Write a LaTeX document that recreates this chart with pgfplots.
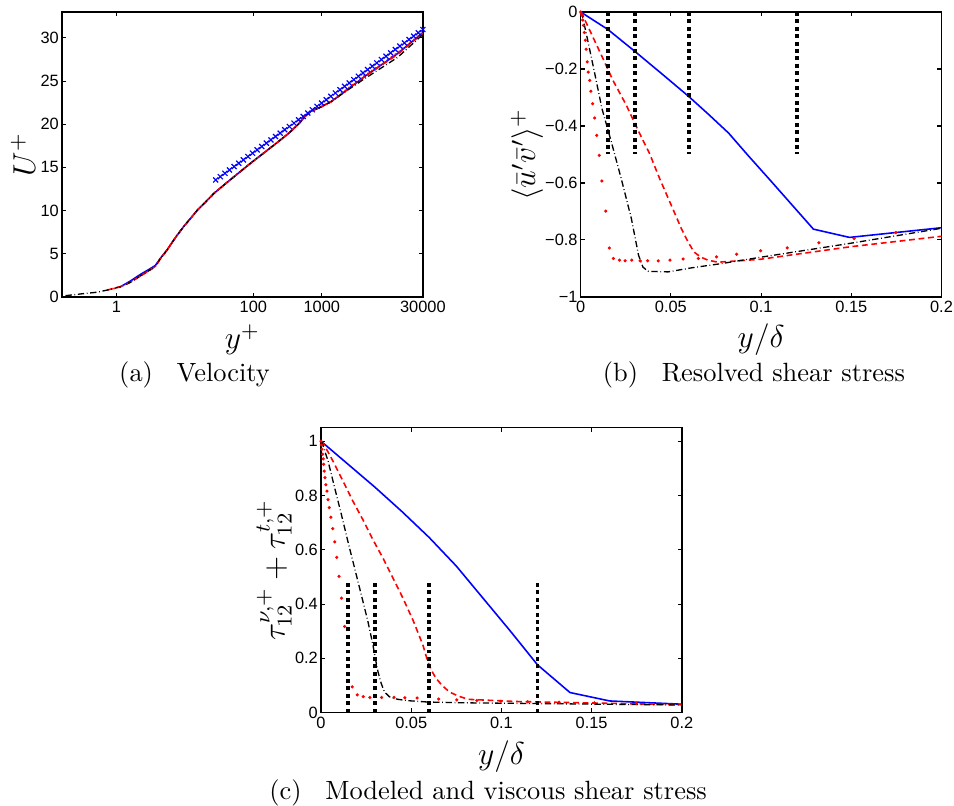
\documentclass[border=0pt]{standalone}
\usepackage{fontspec}
\setsansfont{Liberation Sans}
\usepackage{pgfplots}
\pgfplotsset{compat=1.18}
\pgfplotsset{
  mystyle/.style={
    scale only axis, width=136.7pt, height=107.96pt,
    axis line style={line width=0.5pt},
    tick align=inside, major tick length=1.6pt,
    tick style={black, line width=0.4pt},
    every tick label/.append style={font=\fontsize{6.2}{7}\selectfont\sffamily},
    yticklabel style={inner sep=1pt},
    xticklabel style={inner sep=1.5pt},
    /pgf/number format/assume math mode=true,
    label style={font=\fontsize{12}{14}\selectfont},
    xminorticks=false, yminorticks=false,
  },
  bluel/.style={blue, line width=0.6pt},
  redd/.style={red, line width=0.6pt, dash pattern=on 2.2pt off 1.4pt},
  blkdd/.style={black, line width=0.5pt, dash pattern=on 2.4pt off 1pt on 0.3pt off 1pt},
  reddots/.style={only marks, mark=*, mark size=0.38pt, red, mark options={solid, fill=red, draw=red}},
  vline/.style={black, line width=1.4pt, dash pattern=on 1.5pt off 1.3pt},
}
\begin{document}
\begin{tikzpicture}
\useasboundingbox (0,0) rectangle (361.4pt,305.3pt);
% ---------------- (a) ----------------
\begin{axis}[mystyle, at={(23.49pt,192.8pt)}, anchor=south west,
  xmode=log, log basis x=10, xmin=0.16, xmax=30000, ymin=0, ymax=33,
  xtick={1,100,1000,30000}, xticklabels={1,100,1000,30000},
  ytick={0,5,10,15,20,25,30},
  xlabel={$y^+$}, ylabel={$U^+$},
  xlabel style={at={(axis description cs:0.5,-0.15)}, anchor=center},
  ylabel style={at={(axis description cs:-0.108,0.5)}, anchor=center},
]
\addplot[bluel] coordinates {
(1.1,1.1) (1.6,1.85) (2.25,2.62) (3.0,3.2) (3.7,3.65) (4.4,4.5) (5.5,5.45) (7.3,6.9) (9.7,8.2) (12.1,9.1) (15.2,10.05) (20.1,11.0) (26.6,12.0) (41.8,13.3) (91.6,15.5) (201,17.6) (334,19.0) (467,20.1) (566,20.9) (692,21.5) (970,22.0) (1358,22.6) (1800,23.3) (4178,25.5) (12882,28.2) (30000,30.6)};
\addplot[redd] coordinates {
(0.73,0.8) (1.15,1.2) (1.6,1.7) (2.25,2.45) (3.0,3.05) (3.7,3.55) (4.4,4.45) (5.5,5.45) (7.3,6.9) (9.7,8.2) (12.1,9.1) (15.2,10.05) (20.1,11.0) (26.6,12.0) (41.8,13.3) (91.6,15.5) (201,17.6) (334,19.0) (467,20.1) (566,20.9) (692,21.5) (970,22.0) (1358,22.6) (1800,23.3) (4178,25.5) (12882,28.1) (30000,30.55)};
\addplot[blkdd] coordinates {
(0.18,0.15) (0.3,0.35) (0.52,0.55) (0.82,0.88) (1.15,1.2) (1.6,1.7) (2.25,2.45) (3.0,3.05) (3.7,3.55) (4.4,4.45) (5.5,5.45) (7.3,6.9) (9.7,8.2) (12.1,9.1) (15.2,10.05) (20.1,11.0) (26.6,12.0) (41.8,13.3) (91.6,15.5) (201,17.6) (334,19.0) (467,20.1) (566,20.9) (692,21.5) (970,22.0) (1358,22.6) (1800,23.3) (4178,25.25) (12882,27.75) (30000,30.4)};
\addplot[red, line width=0.6pt, dash pattern=on 0.5pt off 1.3pt] coordinates {
(0.9,0.95) (1.15,1.2) (1.6,1.7) (2.25,2.45) (3.0,3.05) (3.7,3.55) (4.4,4.45) (5.5,5.45) (7.3,6.9) (9.7,8.2) (12.1,9.1) (15.2,10.05) (20.1,11.0) (26.6,12.0) (41.8,13.3) (91.6,15.5) (201,17.6) (334,19.0) (467,20.1) (566,20.9) (692,21.5) (970,22.0) (1358,22.6) (1800,23.4) (4178,25.6) (12882,28.3) (30000,30.65)};
\addplot[only marks, mark=x, mark size=1.35pt, blue, mark options={line width=0.45pt}] coordinates {
(28.18,13.55) (32.91,13.93) (38.42,14.32) (44.86,14.71) (52.37,15.10) (61.15,15.48) (71.39,15.87) (83.35,16.26) (97.31,16.65) (113.6,17.03) (132.65,17.42) (154.9,17.81) (180.8,18.19) (211.1,18.58) (246.5,18.97) (287.8,19.36) (336.0,19.74) (392.3,20.13) (458.0,20.52) (534.7,20.90) (624.3,21.29) (728.8,21.68) (850.9,22.07) (993.6,22.45) (1160,22.84) (1354,23.23) (1581,23.62) (1846,24.00) (2155,24.39) (2516,24.78) (2938,25.16) (3430,25.55) (4005,25.94) (4676,26.33) (5459,26.71) (6373,27.10) (7441,27.49) (8687,27.88) (10145,28.26) (11844,28.65) (13828,29.04) (16144,29.42) (18848,29.81) (22006,30.20) (25692,30.59) (29996,30.97)};
\end{axis}
% ---------------- (b) ----------------
\begin{axis}[mystyle, at={(219.97pt,192.8pt)}, anchor=south west,
  xmin=0, xmax=0.2, ymin=-1, ymax=0,
  xtick={0,0.05,0.1,0.15,0.2}, xticklabels={0,0.05,0.1,0.15,0.2},
  ytick={-1,-0.8,-0.6,-0.4,-0.2,0}, yticklabels={−1,−0.8,−0.6,−0.4,−0.2,0},
  xlabel={$y/\delta$}, ylabel={$\langle\bar{u}'\bar{v}'\rangle^+$},
  xlabel style={at={(axis description cs:0.5,-0.15)}, anchor=center},
  ylabel style={at={(axis description cs:-0.149,0.5)}, anchor=center},
]
\addplot[bluel] coordinates {
(0,0) (0.015,-0.061) (0.03,-0.138) (0.045,-0.217) (0.06,-0.297) (0.071,-0.36) (0.082,-0.425) (0.093,-0.505) (0.105,-0.59) (0.117,-0.676) (0.129,-0.762) (0.149,-0.791) (0.2,-0.757)};
\addplot[redd] coordinates {
(0,0) (0.0007,-0.006) (0.0059,-0.076) (0.0124,-0.164) (0.0179,-0.24) (0.0253,-0.327) (0.0318,-0.415) (0.0382,-0.497) (0.0438,-0.585) (0.0502,-0.678) (0.0558,-0.76) (0.0595,-0.807) (0.0628,-0.842) (0.0665,-0.86) (0.0706,-0.871) (0.0761,-0.878) (0.0993,-0.868) (0.1492,-0.824) (0.2,-0.787)};
\addplot[blkdd] coordinates {
(0,0) (0.0007,-0.006) (0.0041,-0.105) (0.0078,-0.216) (0.0118,-0.339) (0.017,-0.456) (0.0225,-0.585) (0.0281,-0.725) (0.0321,-0.854) (0.0345,-0.895) (0.0373,-0.91) (0.0484,-0.912) (0.0613,-0.898) (0.0779,-0.883) (0.0993,-0.861) (0.1492,-0.812) (0.2,-0.759)};
\addplot[reddots] coordinates {
(0,0) (0.0004,-0.006) (0.0007,-0.012) (0.0011,-0.028) (0.0015,-0.047) (0.002,-0.072) (0.0026,-0.099) (0.003,-0.131) (0.0037,-0.175) (0.0042,-0.211) (0.005,-0.24) (0.0057,-0.278) (0.0066,-0.322) (0.0078,-0.372) (0.0089,-0.433) (0.0103,-0.503) (0.0118,-0.593) (0.0139,-0.699) (0.0159,-0.828) (0.0181,-0.865) (0.0215,-0.871) (0.0246,-0.873) (0.0283,-0.871) (0.0329,-0.873) (0.0371,-0.873) (0.043,-0.873) (0.0495,-0.871) (0.0568,-0.867) (0.0652,-0.865) (0.0753,-0.859) (0.0864,-0.85) (0.0997,-0.838) (0.1145,-0.828) (0.132,-0.81) (0.1516,-0.795) (0.1747,-0.774)};
\addplot[vline] coordinates {(0.015,0) (0.015,-0.5)};
\addplot[vline] coordinates {(0.03,0) (0.03,-0.5)};
\addplot[vline] coordinates {(0.06,0) (0.06,-0.5)};
\addplot[vline] coordinates {(0.12,0) (0.12,-0.5)};
\end{axis}
% ---------------- (c) ----------------
\begin{axis}[mystyle, at={(121.6pt,35.34pt)}, anchor=south west,
  xmin=0, xmax=0.2, ymin=0, ymax=1.05,
  xtick={0,0.05,0.1,0.15,0.2}, xticklabels={0,0.05,0.1,0.15,0.2},
  ytick={0,0.2,0.4,0.6,0.8,1}, yticklabels={0,0.2,0.4,0.6,0.8,1},
  xlabel={$y/\delta$}, ylabel={$\tau_{12}^{\nu,+}+\tau_{12}^{t,+}$},
  xlabel style={at={(axis description cs:0.5,-0.155)}, anchor=center},
  ylabel style={at={(axis description cs:-0.13,0.5)}, anchor=center},
]
\addplot[bluel] coordinates {
(0,1) (0.015,0.915) (0.03,0.83) (0.045,0.74) (0.06,0.645) (0.075,0.54) (0.09,0.42) (0.105,0.30) (0.12,0.176) (0.138,0.074) (0.16,0.043) (0.2,0.031)};
\addplot[redd] coordinates {
(0,1) (0.0011,0.995) (0.0066,0.927) (0.0122,0.853) (0.0177,0.779) (0.0232,0.711) (0.0288,0.637) (0.0343,0.570) (0.0399,0.496) (0.0454,0.422) (0.0509,0.342) (0.0565,0.249) (0.0589,0.194) (0.0611,0.157) (0.0638,0.126) (0.067,0.101) (0.0712,0.076) (0.0758,0.062) (0.0814,0.049) (0.108,0.041) (0.2,0.029)};
\addplot[blkdd] coordinates {
(0,1) (0.0006,0.995) (0.0039,0.927) (0.0076,0.828) (0.0113,0.730) (0.0149,0.631) (0.0186,0.533) (0.0223,0.435) (0.026,0.336) (0.0288,0.249) (0.0301,0.2) (0.0316,0.150) (0.0334,0.107) (0.0352,0.076) (0.038,0.058) (0.0426,0.049) (0.0482,0.044) (0.0592,0.039) (0.0814,0.036) (0.2,0.028)};
\addplot[reddots] coordinates {
(0,1) (0.0002,0.986) (0.0005,0.97) (0.0009,0.952) (0.0012,0.935) (0.0015,0.915) (0.0018,0.89) (0.0022,0.866) (0.0027,0.84) (0.0033,0.816) (0.0039,0.785) (0.0046,0.755) (0.0055,0.72) (0.0065,0.678) (0.0076,0.629) (0.0087,0.572) (0.01,0.502) (0.0114,0.422) (0.0131,0.317) (0.0173,0.095) (0.0201,0.065) (0.0234,0.059) (0.0271,0.056) (0.0336,0.056) (0.0405,0.056) (0.0465,0.055) (0.0533,0.054) (0.0652,0.05) (0.0753,0.047) (0.0864,0.045) (0.0997,0.042) (0.1145,0.04) (0.132,0.038) (0.1516,0.036) (0.1747,0.034)};
\addplot[vline] coordinates {(0.015,0) (0.015,0.48)};
\addplot[vline] coordinates {(0.03,0) (0.03,0.48)};
\addplot[vline] coordinates {(0.06,0) (0.06,0.48)};
\addplot[vline] coordinates {(0.12,0) (0.12,0.48)};
\end{axis}
% captions
\node[font=\fontsize{10}{12}\selectfont, inner sep=0pt] at (73.7pt,163.3pt) {(a)\hspace{0.9em}Velocity};
\node[font=\fontsize{10}{12}\selectfont, inner sep=0pt] at (285.6pt,163.3pt) {(b)\hspace{0.9em}Resolved shear stress};
\node[font=\fontsize{10}{12}\selectfont, inner sep=0pt] at (184.9pt,5.0pt) {(c)\hspace{0.9em}Modeled and viscous shear stress};
\end{tikzpicture}
\end{document}
